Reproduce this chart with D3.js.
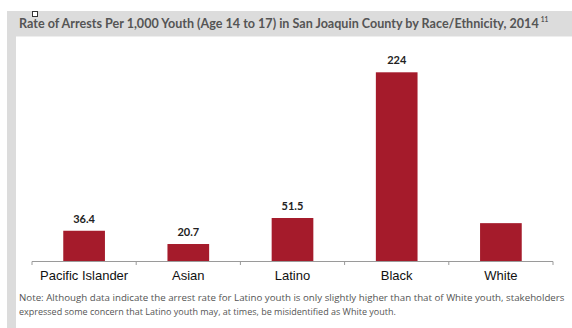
<!DOCTYPE html>
<html>
<head>
<meta charset="utf-8">
<script src="https://cdn.jsdelivr.net/npm/d3@7"></script>
<style>
  body { margin: 0; background: #fff; }
  svg { display: block; }
</style>
</head>
<body>
<script>
// chart data
var categories = ["Pacific Islander", "Asian", "Latino", "Black", "White"];
var rates      = [36.4, 20.7, 51.5, 224, 45.4];
var labels     = ["36.4", "20.7", "51.5", "224", ""];   // White label is not legible in the source
var title      = "Rate of Arrests Per 1,000 Youth (Age 14 to 17) in San Joaquin County by Race/Ethnicity, 2014";
var noteLines  = [
  "Note: Although data indicate the arrest rate for Latino youth is only slightly higher than that of White youth, stakeholders",
  "expressed some concern that Latino youth may, at times, be misidentified as White youth."
];

var W = 572, H = 328;
var svg = d3.select("body").append("svg").attr("width", W).attr("height", H);

// shrink/grow a text's font size until it spans the wanted width
function fitWidth(sel, width, size) {
  sel.style("font-size", size + "px");
  var w = sel.node().getComputedTextLength();
  sel.style("font-size", (size * width / w).toFixed(2) + "px");
}

// frame: grey box with white panel
svg.append("rect").attr("x", 7).attr("y", 11).attr("width", W - 7).attr("height", H - 11)
  .style("fill", "#dcdcdc");
svg.append("rect").attr("x", 16).attr("y", 36.5).attr("width", W - 16).attr("height", H - 36.5)
  .style("fill", "#fff");
svg.append("rect").attr("x", 32.5).attr("y", 11.5).attr("width", 5).attr("height", 5)
  .style("fill", "#fff").style("stroke", "#333").style("stroke-width", 1);

var t = svg.append("text").attr("x", 19).attr("y", 28)
  .style("font-family", "Lato, 'Open Sans', sans-serif")
  .style("font-weight", "bold").style("fill", "#555")
  .text(title);
fitWidth(t, 520, 13);
svg.append("text").attr("x", 19 + t.node().getComputedTextLength() + 2).attr("y", 22)
  .style("font-family", "Lato, sans-serif").style("font-size", "6.5px")
  .style("font-weight", "bold").style("fill", "#555").text("11");

// scales
var x = d3.scaleBand().domain(categories).range([32, 553]).paddingInner(0.6).paddingOuter(0.3);
var y = d3.scaleLinear().domain([0, 224]).range([261.5, 72.3]);

var rows = categories.map(function (c, i) { return { cat: c, v: rates[i], lab: labels[i] }; });

svg.selectAll("rect.bar").data(rows).enter().append("rect").attr("class", "bar")
  .attr("x", function (d) { return x(d.cat); })
  .attr("y", function (d) { return y(d.v); })
  .attr("width", x.bandwidth())
  .attr("height", function (d) { return y(0) - y(d.v); })
  .style("fill", "#a51b2b");

svg.selectAll("text.val").data(rows).enter().append("text").attr("class", "val")
  .attr("x", function (d) { return x(d.cat) + x.bandwidth() / 2; })
  .attr("y", function (d) { return y(d.v) - 8; })
  .attr("text-anchor", "middle")
  .style("font-family", "Lato, 'Open Sans', sans-serif").style("font-size", "11px")
  .style("font-weight", "bold").style("fill", "#222")
  .text(function (d) { return d.lab; });

// x axis with ticks between categories
var axis = svg.append("g");
axis.append("line").attr("x1", 32).attr("x2", 553).attr("y1", 261.5).attr("y2", 261.5)
  .style("stroke", "#9a9a9a");
var edges = categories.map(function (c) { return x(c) - x.step() * 0.3; }).concat([553]);
axis.selectAll("line.tk").data(edges).enter().append("line").attr("class", "tk")
  .attr("x1", function (d) { return d; }).attr("x2", function (d) { return d; })
  .attr("y1", 261.5).attr("y2", 265).style("stroke", "#9a9a9a");
axis.selectAll("text").data(categories).enter().append("text")
  .attr("x", function (d) { return x(d) + x.bandwidth() / 2; })
  .attr("y", 280).attr("text-anchor", "middle")
  .style("font-family", "'Liberation Sans', Arial, sans-serif").style("font-size", "13px")
  .style("fill", "#111")
  .text(function (d) { return d; });

// note
svg.selectAll("text.note").data(noteLines).enter().append("text").attr("class", "note")
  .attr("x", 19).attr("y", function (d, i) { return 301 + i * 14; })
  .style("font-family", "'Open Sans', sans-serif").style("fill", "#555")
  .text(function (d) { return d; })
  .each(function (d, i) { fitWidth(d3.select(this), i === 0 ? 546 : 377, 10); });
</script>
</body>
</html>
